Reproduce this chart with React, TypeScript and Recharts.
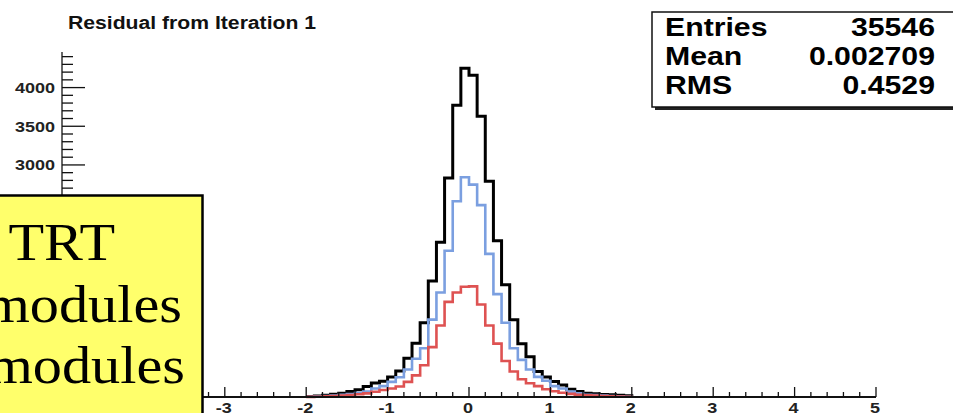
import { LineChart, Line, XAxis, YAxis } from "recharts";

// lower edges of the 0.1-wide bins that carry entries
const binLow = [
  -2.0, -1.9, -1.8, -1.7, -1.6, -1.5, -1.4, -1.3, -1.2, -1.1,
  -1.0, -0.9, -0.8, -0.7, -0.6, -0.5, -0.4, -0.3, -0.2, -0.1,
  0.0, 0.1, 0.2, 0.3, 0.4, 0.5, 0.6, 0.7, 0.8, 0.9,
  1.0, 1.1, 1.2, 1.3, 1.4, 1.5, 1.6, 1.7, 1.8, 1.9,
];
const lastEdge = 2.0;

const allTRT = [
  5, 12, 22, 35, 50, 72, 95, 135, 180, 205,
  260, 335, 500, 695, 960, 1500, 2000, 2830, 3770, 4250,
  4160, 3630, 2790, 2020, 1450, 1000, 690, 520, 330, 260,
  200, 155, 100, 70, 50, 42, 32, 28, 22, 15,
];
const barrel = [
  3, 6, 12, 20, 28, 38, 50, 70, 110, 140,
  195, 255, 355, 495, 630, 1000, 1350, 1890, 2530, 2840,
  2745, 2480, 1850, 1330, 960, 630, 480, 355, 260, 210,
  140, 110, 70, 48, 30, 25, 18, 12, 8, 4,
];
const endcap = [
  2, 4, 8, 12, 18, 25, 35, 47, 68, 90,
  110, 135, 195, 280, 410, 645, 925, 1230, 1350, 1425,
  1430, 1195, 925, 690, 465, 330, 230, 178, 140, 100,
  75, 55, 40, 28, 22, 18, 12, 8, 5, 3,
];

// labels hidden behind the yellow note are left out
const xLabels = [-3, -2, -1, 0, 1, 2, 3, 4, 5];
const xMajor = [-5, -4, -3, -2, -1, 0, 1, 2, 3, 4, 5];
const xTicks = Array.from({ length: 51 }, (_, i) => Math.round((-5 + i * 0.2) * 10) / 10);
const yLabels = [3000, 3500, 4000];
const yMajor = [0, 500, 1000, 1500, 2000, 2500, 3000, 3500, 4000];
const yTicks = Array.from({ length: 45 }, (_, i) => i * 100);

const stats = [
  ["Entries", "35546"],
  ["Mean", "0.002709"],
  ["RMS", "0.4529"],
];
const boxLines = ["All TRT", "Barrel modules", "Endcap modules"];

const rows = [...binLow, lastEdge].map((x, i) => ({
  x,
  all: allTRT[i] ?? 0,
  barrel: barrel[i] ?? 0,
  endcap: endcap[i] ?? 0,
}));

const sans = "'Liberation Sans', Arial, sans-serif";

function YTick(props: any) {
  const { x, y, payload } = props;
  const major = yMajor.includes(payload.value);
  return (
    <g>
      <line x1={x} x2={x + (major ? 23 : 11)} y1={y} y2={y} stroke="#111" strokeWidth={1.3} />
      {yLabels.includes(payload.value) && (
        <text
          transform={`translate(${x - 7},${y + 5.5}) scale(1.2,1)`}
          textAnchor="end"
          fontFamily={sans}
          fontWeight="bold"
          fontSize={15}
          fill="#222"
        >
          {payload.value}
        </text>
      )}
    </g>
  );
}

function XTick(props: any) {
  const { x, y, payload } = props;
  const major = xMajor.includes(payload.value);
  return (
    <g>
      <line x1={x} x2={x} y1={y} y2={y - (major ? 10 : 5)} stroke="#111" strokeWidth={1.3} />
      {xLabels.includes(payload.value) && (
        <text
          transform={`translate(${x - 1},${y + 16}) scale(1.2,1)`}
          textAnchor="middle"
          fontFamily={sans}
          fontWeight="bold"
          fontSize={15}
          fill="#222"
        >
          {payload.value}
        </text>
      )}
    </g>
  );
}

export default function App() {
  return (
    <div style={{ position: "absolute", left: 0, top: 0, width: 953, height: 413, background: "#fff", overflow: "hidden" }}>
      <LineChart width={953} height={413} data={rows} margin={{ top: 52, right: 77, bottom: 0, left: 12 }}>
        <XAxis
          xAxisId="x"
          dataKey="x"
          type="number"
          domain={[-5, 5]}
          ticks={xTicks}
          interval={0}
          height={16}
          tickSize={0}
          tickMargin={0}
          tick={<XTick />}
          axisLine={{ stroke: "#111", strokeWidth: 2 }}
        />
        <XAxis
          xAxisId="top"
          orientation="top"
          dataKey="x"
          type="number"
          domain={[-5, 5]}
          height={0}
          tick={false}
          tickLine={false}
          axisLine={{ stroke: "#555", strokeWidth: 1.5 }}
        />
        <YAxis
          yAxisId="y"
          type="number"
          domain={[0, 4460]}
          ticks={yTicks}
          interval={0}
          width={50}
          tickSize={0}
          tickMargin={0}
          tick={<YTick />}
          axisLine={{ stroke: "#333", strokeWidth: 1.5 }}
        />
        <YAxis
          yAxisId="r"
          orientation="right"
          type="number"
          domain={[0, 4460]}
          width={0}
          tick={false}
          tickLine={false}
          axisLine={{ stroke: "#444", strokeWidth: 1.5 }}
        />
        <Line xAxisId="x" yAxisId="y" type="stepAfter" dataKey="all" stroke="#000" strokeWidth={3} dot={false} activeDot={false} isAnimationActive={false} />
        <Line xAxisId="x" yAxisId="y" type="stepAfter" dataKey="barrel" stroke="#7b9fe0" strokeWidth={2.6} dot={false} activeDot={false} isAnimationActive={false} />
        <Line xAxisId="x" yAxisId="y" type="stepAfter" dataKey="endcap" stroke="#de5252" strokeWidth={2.6} dot={false} activeDot={false} isAnimationActive={false} />
      </LineChart>

      <svg width={953} height={413} style={{ position: "absolute", left: 0, top: 0, pointerEvents: "none" }}>
        <text
          transform="translate(68,29) scale(1.21,1)"
          fontFamily={sans}
          fontWeight="bold"
          fontSize={17.5}
          fill="#111"
        >
          Residual from Iteration 1
        </text>

        <rect x={655} y={15} width={320} height={95} fill="#222" />
        <rect x={652} y={12} width={320} height={95} fill="#fff" stroke="#111" strokeWidth={1.5} />
        {stats.map(([k, v], i) => (
          <g key={k}>
            <text
              transform={`translate(665,${36 + i * 29}) scale(1.21,1)`}
              fontFamily={sans}
              fontWeight="bold"
              fontSize={25}
              fill="#000"
            >
              {k}
            </text>
            <text
              transform={`translate(935,${36 + i * 29}) scale(1.21,1)`}
              textAnchor="end"
              fontFamily={sans}
              fontWeight="bold"
              fontSize={25}
              fill="#000"
            >
              {v}
            </text>
          </g>
        ))}

        <rect x={-20} y={195.5} width={222.5} height={240} fill="#ffff6b" stroke="#000" strokeWidth={2.5} />
        {boxLines.map((t, i) => (
          <text
            key={t}
            transform={`translate(${[115, 182, 185][i]},${[260, 322, 383][i]}) scale(1.1,1)`}
            textAnchor="end"
            fontFamily="'Liberation Serif', 'Times New Roman', serif"
            fontSize={53}
            fill="#000"
          >
            {t}
          </text>
        ))}
      </svg>
    </div>
  );
}
